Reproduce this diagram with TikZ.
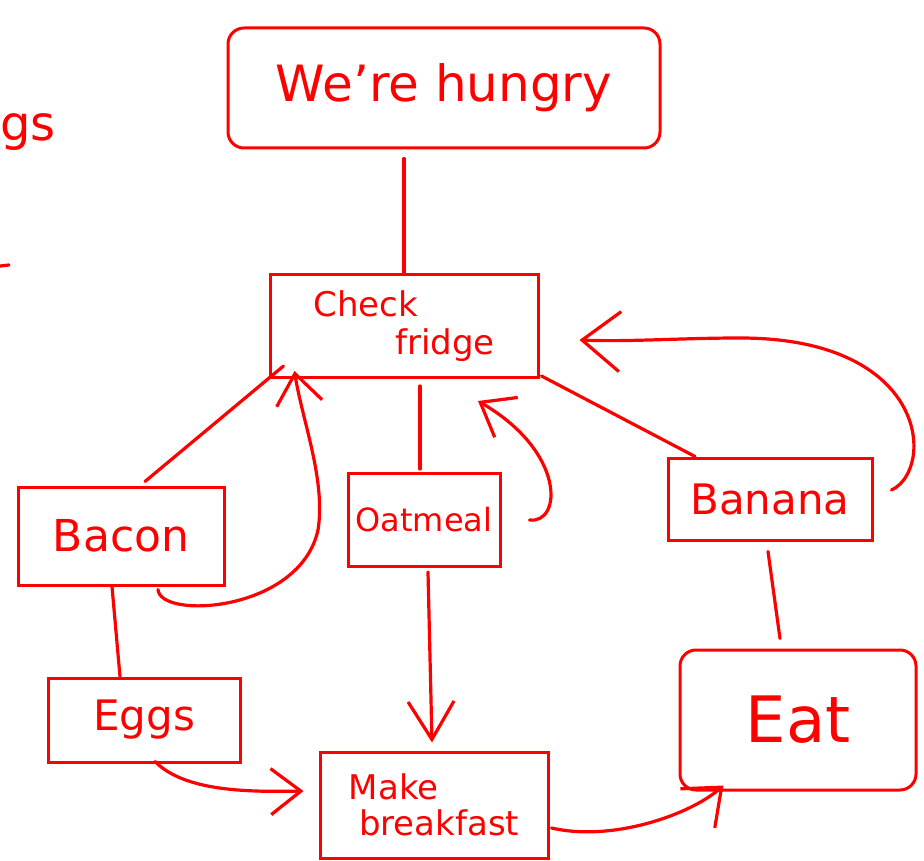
\documentclass[tikz,border=0pt]{standalone}
\usepackage{fontspec}
\setsansfont{DejaVu Sans}
\usetikzlibrary{arrows.meta, positioning}

\tikzset{
    box/.style={draw=red, text=red, line width=3pt, inner sep=0pt, font=\sffamily},
    link/.style={red, line width=3.2pt, line cap=round},
    flow/.style={link, -{Straight Barb[length=30pt, width=46pt]}}
}
\newcommand{\handsize}[2]{\sffamily\fontsize{#1}{#2}\selectfont}

\begin{document}
\begin{tikzpicture}[x=1pt, y=-1pt]
    \useasboundingbox (0,0) rectangle (924,861);

    % Fragments at the left edge
    \node[text=red, anchor=west, inner sep=0pt, font=\handsize{48}{50}] (leftover) at (0,132) {gs};
    \coordinate (dashL) at (0,266);
    \coordinate (dashR) at (9,265);
    \draw[link] (dashL) -- (dashR);

    % Boxes
    \node[box, rounded corners=16pt, minimum width=432pt, minimum height=120pt, font=\handsize{50}{55}] (hungry) at (444,88) {We're hungry};
    \node[box, minimum width=268pt, minimum height=103pt, align=left, font=\handsize{34}{38}] (fridge) at (404,326) {Check\\\hspace*{2.4em}fridge};
    \node[box, minimum width=206pt, minimum height=98pt, font=\handsize{44}{46}] (bacon) at (121,536) {Bacon};
    \node[box, minimum width=152pt, minimum height=93pt, font=\handsize{32}{34}] (oatmeal) at (424,520) {Oatmeal};
    \node[box, minimum width=204pt, minimum height=82pt, font=\handsize{42}{44}] (banana) at (770,499) {Banana};
    \node[box, minimum width=192pt, minimum height=84pt, font=\handsize{42}{44}] (eggs) at (144,720) {Eggs};
    \node[box, rounded corners=16pt, minimum width=236pt, minimum height=140pt, font=\handsize{64}{66}] (eat) at (798,720) {Eat};
    \node[box, minimum width=228pt, minimum height=106pt, align=left, font=\handsize{34}{36}] (make) at (434,805) {Make\\\hspace*{0.3em}breakfast};

    % Plain links
    \draw[link] ([yshift=-9pt]hungry.south) ++(-40,0) coordinate (hungryfoot) -- (hungryfoot |- fridge.north);
    \draw[link] ([xshift=24pt, yshift=4pt]bacon.north) -- ([xshift=15pt, yshift=13pt]fridge.south west);
    \draw[link] ([xshift=-4pt, yshift=3pt]oatmeal.north) -- ([xshift=16pt, yshift=-7pt]fridge.south);
    \draw[link] ([xshift=2pt, yshift=3pt]fridge.south east) -- ([xshift=-75pt]banana.north);
    \draw[link] ([xshift=-2pt, yshift=-10pt]banana.south) -- ([xshift=-18pt, yshift=10pt]eat.north);
    \draw[link] ([xshift=-9pt]bacon.south) -- ([xshift=-24pt]eggs.north);

    % Loops back to the fridge
    \draw[flow] ([xshift=37pt, yshift=-3pt]bacon.south)
        .. controls (160,620) and (300,612) .. (318,530)
        .. controls (326,480) and (302,420) .. ([xshift=26pt, yshift=8pt]fridge.south west);
    \draw[flow] ([xshift=28pt]oatmeal.east)
        .. controls (562,524) and (566,452) .. ([xshift=74pt, yshift=-22pt]fridge.south);
    \draw[flow, -{Straight Barb[length=38pt, width=60pt]}] ([xshift=18pt, yshift=9pt]banana.east)
        .. controls (935,470) and (930,338) .. (740,338)
        .. controls (680,338) and (630,342) .. ([xshift=40pt, yshift=-14pt]fridge.east);

    % Towards breakfast and eating
    \draw[flow, -{Straight Barb[length=38pt, width=46pt]}] ([xshift=4pt, yshift=-4pt]oatmeal.south) -- ([xshift=-2pt, yshift=8pt]make.north);
    \draw[flow] ([xshift=11pt, yshift=2pt]eggs.south)
        .. controls (185,792) and (250,792) .. ([xshift=-15pt, yshift=14pt]make.west);
    \draw[flow, -{Straight Barb[length=32pt, width=52pt]}] ([xshift=2pt, yshift=-23pt]make.east)
        .. controls (612,842) and (690,815) .. ([xshift=45pt, yshift=6pt]eat.south west);
\end{tikzpicture}
\end{document}
